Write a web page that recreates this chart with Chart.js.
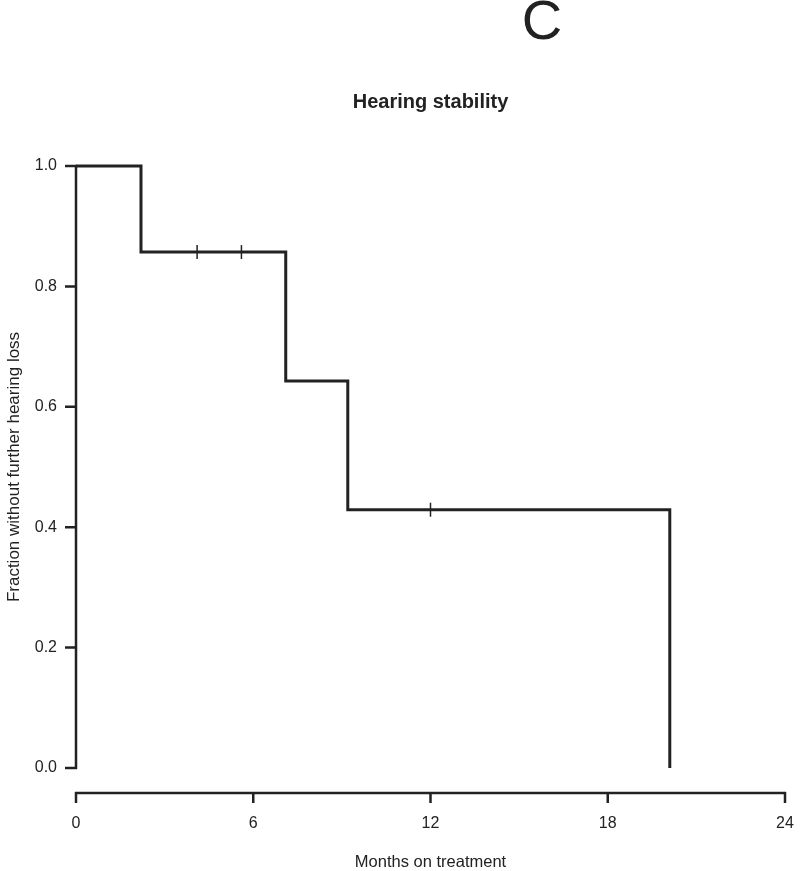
<!DOCTYPE html>
<html>
<head>
<meta charset="utf-8">
<script src="https://cdn.jsdelivr.net/npm/chart.js@4/dist/chart.umd.min.js"></script>
<style>
  body { margin: 0; background: #fff; overflow: hidden; }
  #wrap { width: 800px; height: 871px; }
</style>
</head>
<body>
<div id="wrap"><canvas id="kmChart"></canvas></div>
<script>
// Kaplan-Meier steps (months, fraction)
const stepMonths = [0, 2.2, 7.1, 9.2, 20.1];
const stepFraction = [1.0, 0.857, 0.643, 0.429, 0.0];

// censored observations
const censorMonths = [4.1, 5.6, 12.0];
const censorFraction = [0.857, 0.857, 0.429];

const xTicks = [0, 6, 12, 18, 24];
const yTicks = [0.0, 0.2, 0.4, 0.6, 0.8, 1.0];

const ink = '#222';
const font = '"Liberation Sans", Arial, sans-serif';

// R style axes + texts
const rAxes = {
    id: 'rAxes',
    afterDraw(chart) {
        const ctx = chart.ctx;
        const xs = chart.scales.x, ys = chart.scales.y;
        const area = chart.chartArea;
        ctx.save();
        ctx.strokeStyle = ink;
        ctx.lineWidth = 2.5;
        ctx.lineCap = 'butt';

        // y axis
        const x0 = xs.getPixelForValue(0);
        ctx.beginPath();
        ctx.moveTo(x0, ys.getPixelForValue(0) + 1);
        ctx.lineTo(x0, ys.getPixelForValue(1) - 1);
        yTicks.forEach(v => {
            const py = ys.getPixelForValue(v);
            ctx.moveTo(x0 + 1, py);
            ctx.lineTo(x0 - 11, py);
        });
        ctx.stroke();

        // x axis, offset below the plot
        const ay = ys.getPixelForValue(0) + 25;
        ctx.beginPath();
        ctx.moveTo(xs.getPixelForValue(0) - 1, ay);
        ctx.lineTo(xs.getPixelForValue(24) + 1, ay);
        xTicks.forEach(v => {
            const px = xs.getPixelForValue(v);
            ctx.moveTo(px, ay - 1);
            ctx.lineTo(px, ay + 10);
        });
        ctx.stroke();

        ctx.fillStyle = ink;
        ctx.textAlign = 'center';
        ctx.textBaseline = 'middle';
        ctx.font = '56px ' + font;
        ctx.fillText('C', 542, 24);
        ctx.font = 'bold 20px ' + font;
        ctx.fillText('Hearing stability', (area.left + area.right) / 2, 102);
        ctx.font = '16.5px ' + font;
        ctx.fillText('Months on treatment', (area.left + area.right) / 2, 862);
        ctx.font = '17px ' + font;
        ctx.translate(14, (area.top + area.bottom) / 2);
        ctx.rotate(-Math.PI / 2);
        ctx.fillText('Fraction without further hearing loss', 0, 0);
        ctx.restore();
    }
};

const config = {
    type: 'line',
    data: {
        datasets: [{
            data: stepMonths.map((m, i) => ({x: m, y: stepFraction[i]})),
            stepped: 'before',
            borderColor: ink,
            borderWidth: 3,
            pointRadius: 0,
            fill: false,
            clip: false,
        }, {
            type: 'scatter',
            data: censorMonths.map((m, i) => ({x: m, y: censorFraction[i]})),
            pointStyle: 'line',
            rotation: 90,
            radius: 7,
            borderColor: ink,
            borderWidth: 1.5,
            clip: false,
        }]
    },
    options: {
        responsive: true,
        maintainAspectRatio: false,
        animation: false,
        layout: { padding: { left: 0, right: 15, top: 166, bottom: 0 } },
        plugins: { legend: { display: false }, tooltip: { enabled: false } },
        scales: {
            x: {
                type: 'linear', min: 0, max: 24,
                afterFit: s => { s.height = 103; },
                afterBuildTicks: s => { s.ticks = xTicks.map(v => ({value: v})); },
                grid: { display: false, drawTicks: true, tickLength: 46 },
                border: { display: false },
                ticks: { padding: 0, color: ink, font: { size: 16, family: font } }
            },
            y: {
                min: 0, max: 1,
                afterFit: s => { s.width = 76; },
                afterBuildTicks: s => { s.ticks = yTicks.map(v => ({value: v})); },
                grid: { display: false, drawTicks: true, tickLength: 19 },
                border: { display: false },
                ticks: { padding: 0, color: ink, font: { size: 16, family: font },
                    callback: v => v.toFixed(1) }
            }
        }
    },
    plugins: [rAxes]
};

const kmChart = new Chart(document.getElementById('kmChart'), config);
</script>
</body>
</html>
